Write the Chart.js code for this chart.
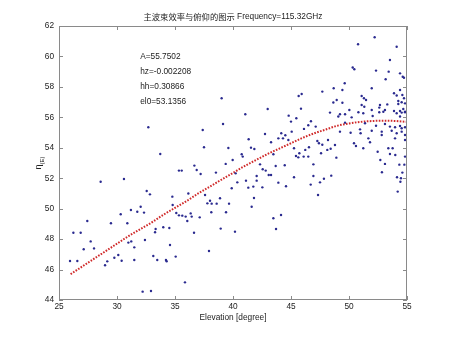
<!DOCTYPE html>
<html>
<head>
<meta charset="utf-8">
<script src="https://cdn.jsdelivr.net/npm/chart.js@4.4.1/dist/chart.umd.min.js"></script>
<style>
  html, body { margin: 0; padding: 0; background: #fff; }
  #wrap { width: 450px; height: 338px; }
</style>
</head>
<body>
<div id="wrap"><canvas id="effChart" width="450" height="338"></canvas></div>
<script>
// measured points: elevation [deg] and main beam efficiency
var elevation = [
  25.95, 26.24, 26.58, 26.87, 27.13, 27.44, 27.73, 28.02, 28.59, 28.97, 29.16, 29.48, 29.77, 30.11, 30.32, 30.40,
  30.60, 30.89, 30.98, 31.20, 31.23, 31.49, 31.49, 31.75, 32.04, 32.21, 32.33, 32.41, 32.56, 32.84, 32.93, 33.13,
  33.28, 33.33, 33.47, 33.73, 33.99, 34.22, 34.28, 34.51, 34.57, 34.77, 34.80, 35.06, 35.11, 35.34, 35.34, 35.58,
  35.63, 35.86, 35.92, 36.06, 36.15, 36.35, 36.44, 36.64, 36.67, 36.87, 37.13, 37.21, 37.59, 37.79, 37.93, 38.02,
  38.13, 38.16, 38.53, 38.59, 38.88, 38.94, 39.37, 39.40, 39.66, 39.89, 39.97, 40.17, 40.23, 40.37, 40.75, 40.84,
  41.12, 41.32, 32.70, 37.39, 37.50, 39.02, 39.14, 39.60, 41.06, 41.35,
  42.99, 45.66, 45.92, 47.70, 48.68, 45.86, 48.65, 44.80, 45.00, 45.46, 46.72, 46.49, 47.13, 48.36, 46.12, 42.76,
  44.16, 44.51, 43.91, 44.31, 44.77, 45.06, 43.28, 41.55, 41.84, 43.48, 45.26, 45.72, 45.43, 45.63, 46.23, 46.09,
  46.49, 46.55, 47.27, 47.41, 47.70, 48.19, 48.42, 48.13, 47.59, 42.33, 42.56, 42.82, 43.08, 43.28, 43.68, 44.46,
  46.93, 45.26, 42.04, 42.04, 41.75, 42.53, 43.91, 44.57, 46.70, 46.93, 47.50, 47.84, 48.47, 47.33, 41.81,
  41.61, 48.91, 43.48, 44.14, 43.71, 52.47, 52.70, 52.84, 53.53, 53.99, 54.34, 54.77, 54.60, 54.14, 54.43, 54.48, 54.20,
  50.78, 52.21, 54.11, 53.53, 50.32, 50.46, 52.33, 53.42, 54.40, 54.63, 54.74, 53.16, 49.63, 49.43, 51.96, 53.88,
  54.11, 54.40, 54.60, 51.09, 51.29, 51.47, 54.74, 54.25, 54.83, 48.94, 49.43, 51.09, 51.32, 52.67, 52.61, 53.30,
  54.25, 54.54, 50.03, 50.81, 51.96, 53.10, 53.88, 54.40, 54.68, 54.83, 52.61, 49.22, 49.66,
  49.08, 50.23, 51.23, 52.04, 52.96, 54.11, 54.54, 54.40, 54.83, 49.66, 51.38, 52.33, 53.10, 53.53, 53.97, 54.40,
  54.83, 54.54, 49.22, 50.14, 50.95, 51.00, 51.96, 52.82, 53.68, 54.11, 54.54, 54.83, 51.67, 51.81, 52.82, 53.97,
  54.83, 48.79, 50.43, 50.60, 51.23, 53.39, 53.76, 54.83, 53.10
];
var efficiency = [
  46.56, 48.42, 46.56, 48.42, 47.33, 49.19, 47.85, 47.39, 51.77, 46.28, 46.54, 49.04, 46.78, 46.96, 49.63, 46.58,
  51.95, 49.04, 47.77, 49.91, 47.85, 47.46, 46.63, 49.80, 50.13, 44.55, 49.74, 47.94, 51.16, 50.94, 44.59, 46.89,
  48.45, 48.66, 46.63, 53.59, 48.78, 46.63, 46.55, 48.73, 47.61, 50.79, 50.24, 46.85, 49.72, 49.56, 52.50, 52.50,
  49.54, 45.16, 49.48, 49.19, 51.00, 49.69, 49.48, 48.42, 52.83, 52.54, 49.43, 52.28, 50.90, 50.35, 47.22, 50.52,
  49.76, 50.33, 52.37, 50.33, 50.68, 48.69, 52.94, 49.76, 50.33, 51.34, 53.20, 48.49, 52.32, 51.73, 53.57, 53.42,
  51.84, 51.38, 55.35, 55.17, 54.03, 57.25, 55.56, 53.99, 56.20, 54.56,
  56.55, 57.40, 57.53, 57.69, 57.91, 56.57, 56.97, 56.11, 55.72, 55.94, 55.74, 55.48, 55.39, 56.31, 55.24, 54.91,
  54.95, 54.82, 54.62, 54.62, 54.51, 55.06, 54.36, 54.01, 53.92, 53.57, 53.97, 53.64, 53.46, 53.37, 53.86, 53.42,
  53.42, 54.03, 54.45, 54.30, 54.20, 54.51, 53.94, 53.86, 53.64, 52.91, 52.59, 52.50, 52.21, 52.21, 52.80, 52.85,
  52.91, 52.06, 52.15, 51.84, 51.45, 51.40, 51.71, 51.47, 51.58, 52.15, 51.73, 51.97, 52.17, 50.90, 50.70,
  50.13, 53.35, 49.37, 49.58, 48.66, 53.74, 53.20, 52.39, 53.59, 53.53, 52.89, 52.89, 52.37, 52.06, 51.77, 52.00, 51.12,
  60.80, 61.26, 60.64, 59.77, 59.27, 59.16, 59.07, 59.00, 58.89, 58.67, 58.60, 58.50, 58.24, 57.80, 57.91, 57.58,
  57.43, 57.80, 57.47, 57.40, 57.25, 57.14, 57.25, 57.07, 56.92, 57.14, 56.96, 56.81, 56.70, 56.81, 56.64, 56.85,
  56.88, 56.99, 56.48, 56.33, 56.48, 56.48, 56.42, 56.42, 56.55, 56.33, 56.33, 56.20, 56.20,
  56.05, 56.00, 56.27, 56.09, 56.37, 56.27, 56.31, 56.05, 56.37, 55.65, 55.61, 55.45, 55.56, 55.39, 55.35, 55.43,
  55.35, 55.28, 55.06, 54.99, 55.21, 54.95, 55.12, 55.06, 55.12, 54.95, 55.06, 54.84, 54.62, 54.36, 54.84, 54.62,
  54.51, 54.18, 54.30, 54.12, 53.97, 53.97, 53.97, 53.42, 52.94
];

// fitted curve
var fitElevation = [26, 27, 28, 29, 30, 31, 32, 33, 34, 35, 36, 37, 38, 39, 40, 41, 42, 43, 44, 45, 46, 47, 48, 49, 50, 51, 52, 53, 54, 55];
var fitEfficiency = [45.7, 46.2, 46.7, 47.2, 47.7, 48.2, 48.65, 49.1, 49.6, 50.05, 50.5, 51.0, 51.45, 51.9, 52.35, 52.8,
  53.2, 53.6, 53.95, 54.3, 54.65, 54.95, 55.2, 55.45, 55.6, 55.7, 55.76, 55.78, 55.76, 55.7];

var xTicks = [25, 30, 35, 40, 45, 50, 55];
var yTicks = [44, 46, 48, 50, 52, 54, 56, 58, 60, 62];

var titleCn = '主波束效率与俯仰的图示';
var titleEn = ' Frequency=115.32GHz';
var xLabel = 'Elevation [degree]';
var fitNotes = ['A=55.7502', 'hz=-0.002208', 'hh=0.30866', 'el0=53.1356'];
var noteX = 32;
var noteY = [60, 59, 58, 57];

var FONT = '"Liberation Sans", Arial, sans-serif';
var FS = 8.3;

var matlabFrame = {
  id: 'matlabFrame',
  afterDraw: function (chart) {
    var ctx = chart.ctx, a = chart.chartArea;
    var xs = chart.scales.x, ys = chart.scales.y;
    ctx.save();
    ctx.strokeStyle = '#8a8a8a';
    ctx.lineWidth = 1;
    ctx.strokeRect(a.left + 0.5, a.top + 0.5, a.right - a.left - 1, a.bottom - a.top - 1);
    ctx.beginPath();
    xTicks.forEach(function (v) {
      var px = Math.round(xs.getPixelForValue(v)) + 0.5;
      ctx.moveTo(px, a.bottom); ctx.lineTo(px, a.bottom - 4);
      ctx.moveTo(px, a.top); ctx.lineTo(px, a.top + 4);
    });
    yTicks.forEach(function (v) {
      var py = Math.round(ys.getPixelForValue(v)) + 0.5;
      ctx.moveTo(a.left, py); ctx.lineTo(a.left + 4, py);
      ctx.moveTo(a.right, py); ctx.lineTo(a.right - 4, py);
    });
    ctx.stroke();

    ctx.fillStyle = '#222';
    // title
    var cx = (a.left + a.right) / 2;
    ctx.font = FS + 'px "Noto Sans CJK SC", sans-serif';
    var wCn = ctx.measureText(titleCn).width;
    ctx.font = FS + 'px ' + FONT;
    var wEn = ctx.measureText(titleEn).width;
    var x0 = cx - (wCn + wEn) / 2;
    ctx.textBaseline = 'middle';
    ctx.textAlign = 'left';
    ctx.font = FS + 'px "Noto Sans CJK SC", sans-serif';
    ctx.fillText(titleCn, x0, 17);
    ctx.font = FS + 'px ' + FONT;
    ctx.fillText(titleEn, x0 + wCn, 17);

    // fit parameters
    fitNotes.forEach(function (t, i) {
      ctx.fillText(t, xs.getPixelForValue(noteX), ys.getPixelForValue(noteY[i]));
    });

    // x label
    ctx.textAlign = 'center';
    ctx.fillText(xLabel, cx, 318);

    // y label: eta with subscript (E)
    ctx.save();
    ctx.translate(39, (a.top + a.bottom) / 2);
    ctx.rotate(-Math.PI / 2);
    ctx.textAlign = 'left';
    ctx.font = '9px ' + FONT;
    var wEta = ctx.measureText('η').width;
    ctx.font = '6px ' + FONT;
    var wSub = ctx.measureText('(E)').width;
    var sx = -(wEta + wSub) / 2;
    ctx.font = '9px ' + FONT;
    ctx.fillText('η', sx, 0);
    ctx.font = '6px ' + FONT;
    ctx.fillText('(E)', sx + wEta, 3);
    ctx.restore();

    ctx.restore();
  }
};

new Chart(document.getElementById('effChart'), {
  type: 'scatter',
  data: {
    datasets: [{
      label: 'measured',
      data: elevation.map(function (e, i) { return { x: e, y: efficiency[i] }; }),
      pointRadius: 1.2,
      pointBorderWidth: 0,
      pointBackgroundColor: '#2a2a8f',
      showLine: false
    }, {
      label: 'fit',
      data: fitElevation.map(function (e, i) { return { x: e, y: fitEfficiency[i] }; }),
      showLine: true,
      pointRadius: 0,
      borderColor: '#d02a2a',
      borderWidth: 2,
      borderDash: [1.6, 1.4],
      cubicInterpolationMode: 'monotone'
    }]
  },
  options: {
    responsive: false,
    animation: false,
    layout: { padding: { top: 26, right: 43, left: 0, bottom: 0 } },
    plugins: { legend: { display: false }, tooltip: { enabled: false }, title: { display: false } },
    scales: {
      x: {
        type: 'linear', min: 25, max: 55,
        afterFit: function (s) { s.height = 38; },
        afterBuildTicks: function (s) { s.ticks = xTicks.map(function (v) { return { value: v }; }); },
        ticks: { color: '#222', font: { family: FONT, size: FS }, padding: 2, maxRotation: 0 },
        grid: { drawOnChartArea: false, drawTicks: false },
        border: { display: false }
      },
      y: {
        min: 44, max: 62,
        afterFit: function (s) { s.width = 59; },
        afterBuildTicks: function (s) { s.ticks = yTicks.map(function (v) { return { value: v }; }); },
        ticks: { color: '#222', font: { family: FONT, size: FS }, padding: 5 },
        grid: { drawOnChartArea: false, drawTicks: false },
        border: { display: false }
      }
    }
  },
  plugins: [matlabFrame]
});
</script>
</body>
</html>
